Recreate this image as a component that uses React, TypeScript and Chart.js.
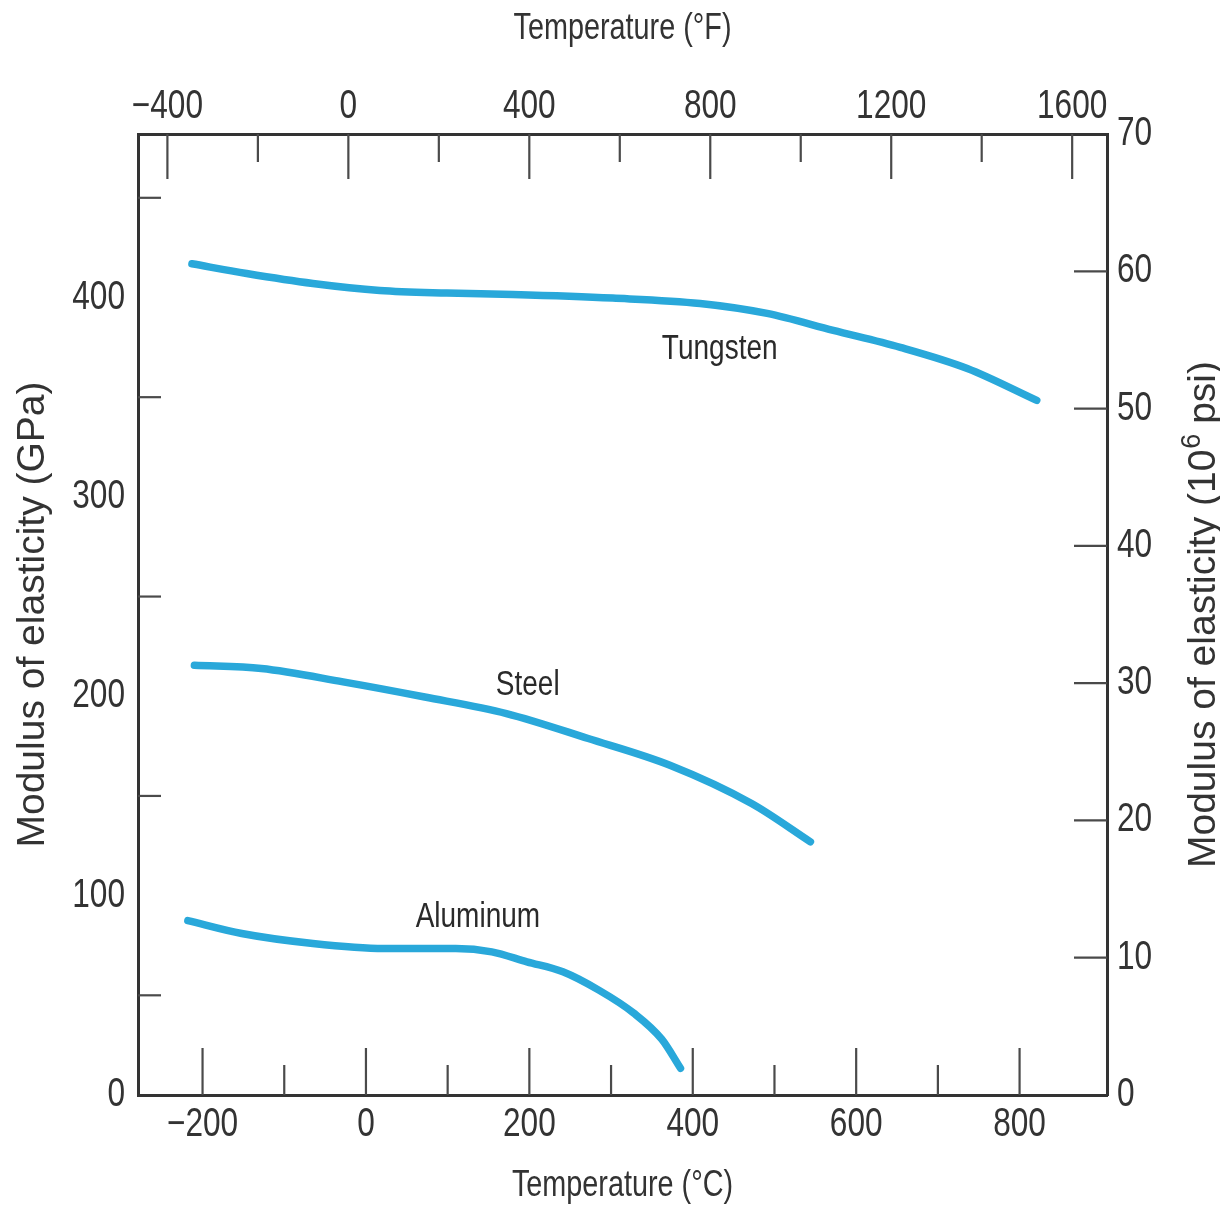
import { useEffect, useRef } from 'react';
import { Chart, registerables } from 'chart.js';

Chart.register(...registerables);

// ---- data (temperature in °C, modulus in GPa) ----
const tungstenC = [-213, -146, -65, 17, 99, 180, 302, 409, 491, 572, 654, 736, 821];
const tungstenGPa = [416.9, 412, 407, 403.5, 402.2, 401.5, 399.7, 397, 392, 383.5, 375, 364.4, 348.4];

const steelC = [-210, -128, -28, 72, 172, 272, 372, 472, 544];
const steelGPa = [215.5, 213.9, 207.2, 199.6, 191.3, 178.8, 165.4, 146.2, 127];

const aluminumC = [-218, -152, -65, 22, 110, 154, 197, 241, 285, 328, 362, 385];
const aluminumGPa = [87.5, 81, 76, 73.5, 73.5, 71.8, 66.8, 61.8, 52.6, 41, 28, 13.4];

// ---- axes ----
const celsiusRange = [-279, 907];
const fahrenheitRange = [-465, 1677];
const gpaRange = [0, 482];
const psiRange = [0, 70];

const celsiusLabels = [-200, 0, 200, 400, 600, 800];
const celsiusMinorTicks = [-100, 100, 300, 500, 700];
const fahrenheitLabels = [-400, 0, 400, 800, 1200, 1600];
const fahrenheitMinorTicks = [-200, 200, 600, 1000, 1400];
const gpaLabels = [0, 100, 200, 300, 400];
const gpaTicks = [50, 150, 250, 350, 450];
const psiLabels = [0, 10, 20, 30, 40, 50, 60, 70];
const psiTicks = [10, 20, 30, 40, 50, 60];

// ---- curve labels (placed at data coordinates) ----
const curveNames = ['Tungsten', 'Steel', 'Aluminum'];
const curveLabelC = [433, 198, 137];
const curveLabelGPa = [374, 205.5, 89];

const REGULAR = '"Liberation Sans", Arial, "DejaVu Sans", sans-serif';
const TEXT = '#333333';
const CURVE = '#29a8da';
const NARROW_SCALE = 0.79;

const toPoints = (xs: number[], ys: number[]) => xs.map((x, i) => ({ x, y: ys[i] }));
const fmt = (v: number | string) => String(v).replace('-', '\u2212');

// draws horizontally condensed text (the figure uses a condensed face)
const narrowText = (ctx: any, text: string, x: number, y: number, align: string, sx = NARROW_SCALE) => {
  ctx.save();
  ctx.translate(x, y);
  ctx.scale(sx, 1);
  ctx.textAlign = align;
  ctx.fillText(text, 0, 0);
  ctx.restore();
};

const inwardTicks = {
  id: 'inwardTicks',
  afterDraw(chart: any) {
    const { ctx, chartArea: a, scales } = chart;
    ctx.save();
    ctx.strokeStyle = '#4a4a4a';
    ctx.lineWidth = 2.2;
    const draw = (scaleId: string, vals: number[], len: number, side: string) => {
      const s = scales[scaleId];
      vals.forEach((v) => {
        const p = s.getPixelForValue(v);
        ctx.beginPath();
        if (side === 'bottom') { ctx.moveTo(p, a.bottom); ctx.lineTo(p, a.bottom - len); }
        if (side === 'top') { ctx.moveTo(p, a.top); ctx.lineTo(p, a.top + len); }
        if (side === 'left') { ctx.moveTo(a.left, p); ctx.lineTo(a.left + len, p); }
        if (side === 'right') { ctx.moveTo(a.right, p); ctx.lineTo(a.right - len, p); }
        ctx.stroke();
      });
    };
    draw('x', celsiusLabels, 47, 'bottom');
    draw('x', celsiusMinorTicks, 30, 'bottom');
    draw('x2', fahrenheitLabels, 45, 'top');
    draw('x2', fahrenheitMinorTicks, 28, 'top');
    draw('y', gpaTicks, 23, 'left');
    draw('y2', psiTicks, 33, 'right');
    ctx.restore();
  },
};

const textPlugin = {
  id: 'textPlugin',
  afterDraw(chart: any) {
    const { ctx, chartArea: a, scales } = chart;
    ctx.save();
    ctx.fillStyle = TEXT;
    ctx.textBaseline = 'middle';

    // tick labels, placed through the scales
    ctx.font = `40px ${REGULAR}`;
    scales.x.ticks.forEach((t: any) => narrowText(ctx, fmt(t.value), scales.x.getPixelForValue(t.value), a.bottom + 30, 'center'));
    scales.x2.ticks.forEach((t: any) => narrowText(ctx, fmt(t.value), scales.x2.getPixelForValue(t.value), a.top - 27, 'center'));
    scales.y.ticks.forEach((t: any) => narrowText(ctx, fmt(t.value), a.left - 13, scales.y.getPixelForValue(t.value), 'right'));
    scales.y2.ticks.forEach((t: any) => narrowText(ctx, fmt(t.value), a.right + 10, scales.y2.getPixelForValue(t.value), 'left'));

    // temperature axis titles
    ctx.font = `36px ${REGULAR}`;
    const midX = (a.left + a.right) / 2;
    narrowText(ctx, 'Temperature (°F)', midX, 29, 'center', 0.8);
    narrowText(ctx, 'Temperature (°C)', midX, chart.height - 20, 'center', 0.8);

    // curve labels
    ctx.fillStyle = '#2a2a2a';
    ctx.font = `35px ${REGULAR}`;
    curveNames.forEach((n, i) => {
      narrowText(ctx, n, scales.x.getPixelForValue(curveLabelC[i]), scales.y.getPixelForValue(curveLabelGPa[i]), 'center', 0.8);
    });

    // right axis title, reading bottom to top, with superscript
    const cx = scales.y2.right - 19;
    const cy = (a.top + a.bottom) / 2;
    ctx.translate(cx, cy);
    ctx.rotate(-Math.PI / 2);
    ctx.fillStyle = TEXT;
    ctx.textAlign = 'left';
    ctx.textBaseline = 'alphabetic';
    const t1 = 'Modulus of elasticity (10';
    const t2 = '6';
    const t3 = ' psi)';
    ctx.font = `39px ${REGULAR}`;
    const w1 = ctx.measureText(t1).width;
    const w3 = ctx.measureText(t3).width;
    ctx.font = `27px ${REGULAR}`;
    const w2 = ctx.measureText(t2).width;
    const x0 = -(w1 + w2 + w3) / 2;
    const base = 14;
    ctx.font = `39px ${REGULAR}`;
    ctx.fillText(t1, x0, base);
    ctx.fillText(t3, x0 + w1 + w2, base);
    ctx.font = `27px ${REGULAR}`;
    ctx.fillText(t2, x0 + w1 + 1, base - 15);
    ctx.restore();
  },
};

export default function App() {
  const ref = useRef<HTMLCanvasElement | null>(null);

  useEffect(() => {
    document.body.style.margin = '0';
    const canvas = ref.current;
    if (!canvas) return;

    const line = (data: { x: number; y: number }[], label: string) => ({
      label,
      data,
      xAxisID: 'x',
      yAxisID: 'y',
      borderColor: CURVE,
      backgroundColor: CURVE,
      borderWidth: 7.5,
      borderCapStyle: 'round' as const,
      borderJoinStyle: 'round' as const,
      pointRadius: 0,
      cubicInterpolationMode: 'monotone' as const,
      fill: false,
    });

    const hidden = { display: false };
    const frame = { display: true, color: '#333', width: 3 };
    const noGrid = { display: false, drawTicks: false };

    const chart = new Chart(canvas, {
      type: 'line',
      data: {
        datasets: [
          line(toPoints(tungstenC, tungstenGPa), 'Tungsten'),
          line(toPoints(steelC, steelGPa), 'Steel'),
          line(toPoints(aluminumC, aluminumGPa), 'Aluminum'),
        ],
      },
      options: {
        animation: false,
        responsive: false,
        devicePixelRatio: 1,
        layout: { padding: 0 },
        plugins: {
          legend: { display: false },
          tooltip: { enabled: false },
          title: { display: false },
        },
        scales: {
          x: {
            type: 'linear',
            position: 'bottom',
            min: celsiusRange[0],
            max: celsiusRange[1],
            afterBuildTicks: (s: any) => { s.ticks = celsiusLabels.map((value) => ({ value })); },
            afterFit: (s: any) => { s.height = 111; },
            ticks: hidden,
            grid: noGrid,
            border: frame,
            title: hidden,
          },
          x2: {
            type: 'linear',
            position: 'top',
            min: fahrenheitRange[0],
            max: fahrenheitRange[1],
            afterBuildTicks: (s: any) => { s.ticks = fahrenheitLabels.map((value) => ({ value })); },
            afterFit: (s: any) => { s.height = 134; },
            ticks: hidden,
            grid: noGrid,
            border: frame,
            title: hidden,
          },
          y: {
            type: 'linear',
            position: 'left',
            min: gpaRange[0],
            max: gpaRange[1],
            afterBuildTicks: (s: any) => { s.ticks = gpaLabels.map((value) => ({ value })); },
            afterFit: (s: any) => { s.width = 138; },
            ticks: hidden,
            grid: noGrid,
            border: frame,
            title: { display: true, text: 'Modulus of elasticity (GPa)', color: TEXT, font: { family: REGULAR, size: 39, lineHeight: 1.2 }, padding: { top: 10, bottom: 0 } },
          },
          y2: {
            type: 'linear',
            position: 'right',
            min: psiRange[0],
            max: psiRange[1],
            afterBuildTicks: (s: any) => { s.ticks = psiLabels.map((value) => ({ value })); },
            afterFit: (s: any) => { s.width = 113; },
            ticks: hidden,
            grid: noGrid,
            border: frame,
            title: hidden,
          },
        },
      },
      plugins: [inwardTicks, textPlugin],
    } as any);

    return () => chart.destroy();
  }, []);

  return (
    <div style={{ width: 1220, height: 1206, background: '#fff' }}>
      <canvas ref={ref} width={1220} height={1206} style={{ display: 'block' }} />
    </div>
  );
}
